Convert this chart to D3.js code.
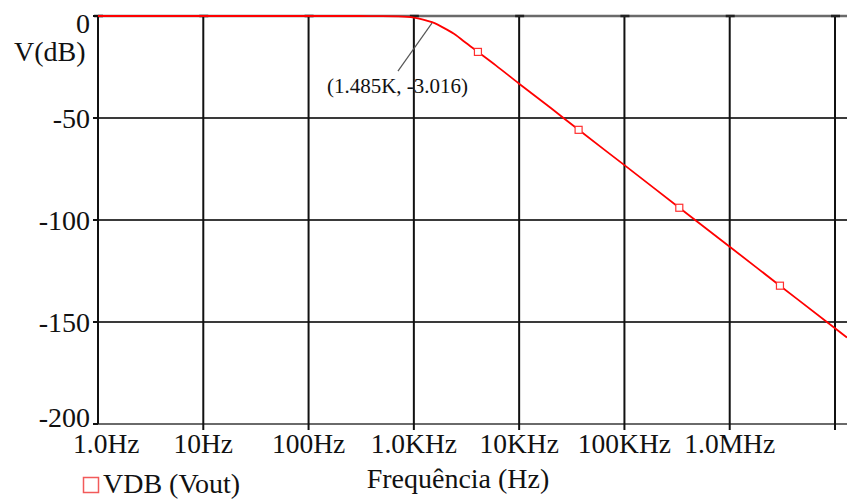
<!DOCTYPE html>
<html>
<head>
<meta charset="utf-8">
<script src="https://cdn.jsdelivr.net/npm/d3@7"></script>
<style>
  html, body { margin: 0; padding: 0; background: #fff; }
  svg { display: block; }
  text { font-family: "Liberation Serif", "Times New Roman", serif; fill: #111; }
</style>
</head>
<body>
<svg id="chart" width="847" height="499"></svg>
<script>
// ---- data ----
const freqHz   = [1, 10, 100, 300, 500, 700, 1000, 1200, 1485, 2000, 2500, 3000, 4060, 6000, 10000, 20000, 36700, 100000, 332000, 1000000, 3000000, 10000000, 13000000];
const vdb      = [0, 0, 0, -0.01, -0.05, -0.2, -0.8, -1.6, -3.016, -6.3, -9.3, -12.5, -17.6, -24.2, -33.2, -45.1, -55.8, -73.1, -94.0, -113.1, -132.2, -153.1, -157.6];
const markerHz = [4060, 36700, 332000, 3000000];
const xTickValues = [1, 10, 100, 1000, 10000, 100000, 1000000];
const xTickLabels = ["1.0Hz", "10Hz", "100Hz", "1.0KHz", "10KHz", "100KHz", "1.0MHz"];
const xGridValues = [1, 10, 100, 1000, 10000, 100000, 1000000, 10000000];
const yTickValues = [0, -50, -100, -150, -200];
const yTickLabels = ["0", "-50", "-100", "-150", "-200"];
const cursorPoint = { f: 1485, v: -3.016, label: "(1.485K, -3.016)" };
const seriesName = "VDB (Vout)";
const xTitle = "Frequência (Hz)";
const yTitle = "V(dB)";

// ---- layout ----
const svg = d3.select("#chart");
const W = 847, H = 499;
const pLeft = 98, pRight = 847, pTop = 16, pBottom = 424;

const x = d3.scaleLog().domain([1, 1.3e7]).range([pLeft, pRight]);
const y = d3.scaleLinear().domain([-200, 0]).range([pBottom, pTop]);

svg.append("rect").attr("width", W).attr("height", H).attr("fill", "#fff");

// horizontal grid lines
svg.append("g").selectAll("line")
  .data(yTickValues.filter(v => v !== 0 && v !== -200))
  .join("line")
  .attr("x1", pLeft).attr("x2", pRight)
  .attr("y1", d => y(d)).attr("y2", d => y(d))
  .attr("stroke", "#3a3a3a").attr("stroke-width", 2);

// top line (0 dB) and bottom axis
svg.append("line").attr("x1", pLeft).attr("x2", pRight)
  .attr("y1", y(0)).attr("y2", y(0))
  .attr("stroke", "#6a6a6a").attr("stroke-width", 2.5);
svg.append("line").attr("x1", pLeft).attr("x2", pRight)
  .attr("y1", y(-200)).attr("y2", y(-200))
  .attr("stroke", "#6a6a6a").attr("stroke-width", 2);

// vertical grid lines (decades) with ticks below the axis
svg.append("g").selectAll("line")
  .data(xGridValues)
  .join("line")
  .attr("x1", d => x(d)).attr("x2", d => x(d))
  .attr("y1", pTop).attr("y2", (d, i) => i === 0 ? pBottom : pBottom + 6)
  .attr("stroke", "#111").attr("stroke-width", 2);

// top small dark tick marks
svg.append("g").selectAll("line")
  .data(xGridValues)
  .join("line")
  .attr("x1", d => x(d) - 4).attr("x2", d => x(d) + 5)
  .attr("y1", pTop).attr("y2", pTop)
  .attr("stroke", "#222").attr("stroke-width", 2.5);

// y-axis ticks
svg.append("g").selectAll("line")
  .data(yTickValues)
  .join("line")
  .attr("x1", pLeft - 5).attr("x2", pLeft)
  .attr("y1", d => y(d)).attr("y2", d => y(d))
  .attr("stroke", "#111").attr("stroke-width", 2);

// y tick labels
svg.append("g").selectAll("text")
  .data(yTickValues)
  .join("text")
  .attr("x", 90)
  .attr("y", d => Math.min(Math.max(y(d) + 10, pTop + 17), pBottom + 3))
  .attr("text-anchor", "end")
  .attr("font-size", 28)
  .text((d, i) => yTickLabels[i]);

// x tick labels
svg.append("g").selectAll("text")
  .data(xTickValues)
  .join("text")
  .attr("x", (d, i) => i === 0 ? x(d) - 25 : x(d))
  .attr("y", 453)
  .attr("text-anchor", (d, i) => i === 0 ? "start" : "middle")
  .attr("font-size", 27.5)
  .text((d, i) => xTickLabels[i]);

// y title
svg.append("text").attr("x", 14).attr("y", 61)
  .attr("font-size", 28).text(yTitle);

// x title
svg.append("text").attr("x", 458).attr("y", 488)
  .attr("text-anchor", "middle").attr("font-size", 28).text(xTitle);

// curve
const pts = freqHz.map((f, i) => [f, vdb[i]]);
const line = d3.line().x(d => x(d[0])).y(d => y(d[1])).curve(d3.curveMonotoneX);
svg.append("path").datum(pts)
  .attr("d", line)
  .attr("fill", "none").attr("stroke", "#ff0000").attr("stroke-width", 1.8);

// markers on the curve
const interp = f => {
  const lf = Math.log10(f);
  for (let i = 0; i < freqHz.length - 1; i++) {
    const a = Math.log10(freqHz[i]), b = Math.log10(freqHz[i + 1]);
    if (lf >= a && lf <= b) {
      const t = (lf - a) / (b - a);
      return vdb[i] + t * (vdb[i + 1] - vdb[i]);
    }
  }
  return vdb[vdb.length - 1];
};
svg.append("g").selectAll("rect")
  .data(markerHz)
  .join("rect")
  .attr("x", d => x(d) - 3.5).attr("y", d => y(interp(d)) - 3.5)
  .attr("width", 7).attr("height", 7)
  .attr("fill", "#fff").attr("stroke", "#ff3030").attr("stroke-width", 1.2);

// cursor annotation
const cx = x(cursorPoint.f), cy = y(cursorPoint.v);
svg.append("line")
  .attr("x1", cx).attr("y1", cy + 1)
  .attr("x2", cx - 34).attr("y2", cy + 49)
  .attr("stroke", "#555").attr("stroke-width", 1.2);
svg.append("text")
  .attr("x", cx - 105).attr("y", cy + 71)
  .attr("font-size", 21)
  .attr("fill", "#222")
  .text(cursorPoint.label);

// legend
svg.append("rect").attr("x", 83.5).attr("y", 477.5)
  .attr("width", 15).attr("height", 15)
  .attr("fill", "#fff").attr("stroke", "#f25a5a").attr("stroke-width", 1.5);
svg.append("text").attr("x", 103).attr("y", 493)
  .attr("font-size", 28).text(seriesName);
</script>
</body>
</html>
